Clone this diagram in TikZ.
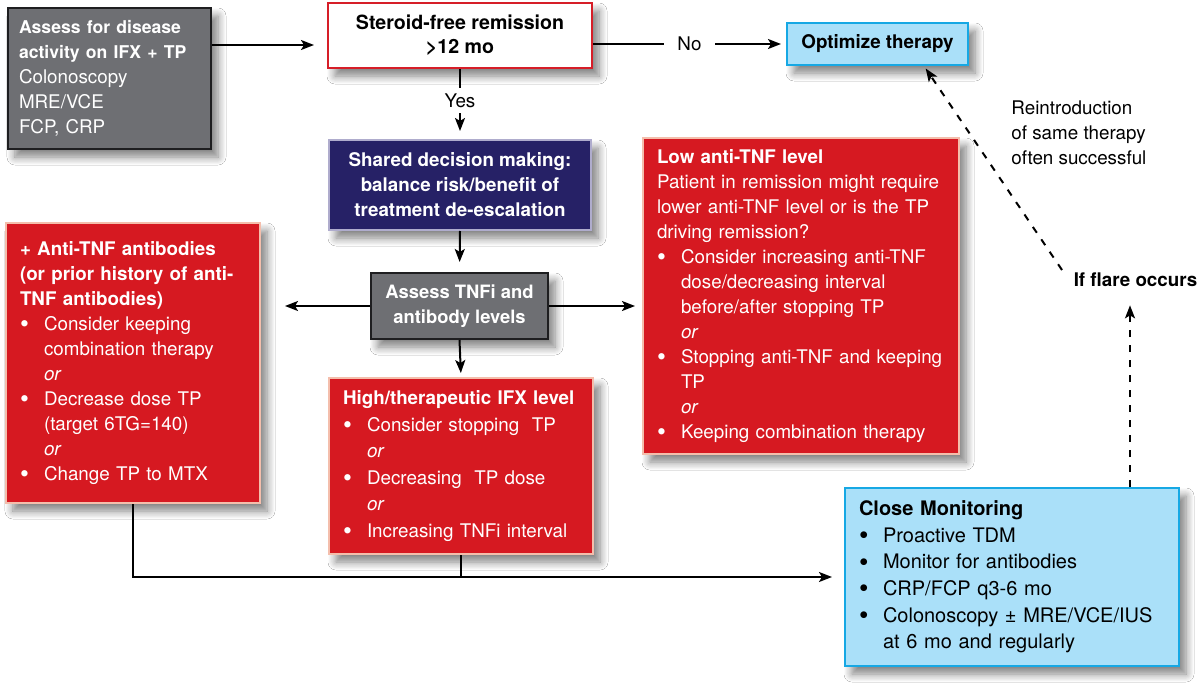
\documentclass[tikz,border=0pt]{standalone}
\usepackage{fontspec}
\setmainfont{TeX Gyre Heros}
\usetikzlibrary{arrows.meta,shadows.blur}

\definecolor{greyfill}{RGB}{110,111,115}
\definecolor{greyedge}{RGB}{30,30,32}
\definecolor{redfill}{RGB}{214,25,33}
\definecolor{rededge}{RGB}{244,190,172}
\definecolor{navyfill}{RGB}{38,33,102}
\definecolor{navyedge}{RGB}{175,172,205}
\definecolor{bluefill}{RGB}{170,224,249}
\definecolor{blueedge}{RGB}{22,168,228}
\definecolor{steroidedge}{RGB}{214,30,40}

\newcommand{\bul}{\makebox[12pt][l]{\raisebox{-1.1pt}{\scalebox{1.35}{\textbullet}}}}
\newcommand{\ind}{\hspace*{12pt}}

\tikzset{
  box/.style={draw, line width=1pt, inner xsep=7pt, inner ysep=2pt,
    font=\fontsize{9.4}{12.5}\selectfont,
    blur shadow={shadow xshift=3.5pt, shadow yshift=-4pt, shadow blur steps=8, shadow blur radius=4pt, shadow opacity=50}},
  listbox/.style={box, anchor=north west, align=left},
  midbox/.style={box, align=center},
  greybox/.style={fill=greyfill, draw=greyedge, text=white},
  redbox/.style={listbox, fill=redfill, draw=rededge, text=white},
  navybox/.style={midbox, fill=navyfill, draw=navyedge, text=white, font=\fontsize{9.4}{12.5}\selectfont\bfseries},
  bluebox/.style={fill=bluefill, draw=blueedge},
  arr/.style={line width=1pt, -{Stealth[length=6.5pt,width=5pt,inset=1.5pt]}},
  dasharr/.style={arr, dash pattern=on 3.5pt off 4pt},
  lbl/.style={font=\fontsize{9.4}{12.5}\selectfont, inner sep=3pt}
}

\begin{document}
\begin{tikzpicture}[x=0.5pt, y=-0.5pt]

\path[use as bounding box, fill=white] (0,0) rectangle (1200,685) ;

\node[listbox, greybox, inner xsep=5.5pt, text width=90.5pt, minimum height=70.5pt] (assess) at (7,7)
  {{\fontsize{8.8}{12.5}\selectfont\bfseries Assess for disease\\ activity on IFX + TP}\\ Colonoscopy\\ MRE/VCE\\ FCP, CRP} ;

\node[midbox, fill=white, draw=steroidedge, minimum width=132pt, minimum height=32.5pt,
  font=\fontsize{9.8}{12}\selectfont\bfseries] (steroid) at (460,35.5)
  {Steroid-free remission\\ >12 mo} ;

\node[midbox, bluebox, minimum width=90.5pt, minimum height=21pt, font=\fontsize{9.4}{12}\selectfont\bfseries]
  (optim) at (877.5,44) {Optimize therapy} ;

\node[navybox, minimum width=131pt, minimum height=45pt] (shared) at (460,185)
  {Shared decision making:\\ balance risk/benefit of\\ treatment de-escalation} ;

\node[midbox, greybox, minimum width=88.5pt, minimum height=33pt, inner xsep=4pt,
  font=\fontsize{9.2}{12.5}\selectfont\bfseries] (tnfi) at (459.5,306)
  {Assess TNFi and\\ antibody levels} ;

\node[redbox, text width=113pt, minimum height=140pt] (anti) at (5,222)
  {\textbf{+ Anti-TNF antibodies}\\
   \textbf{(or prior history of anti-}\\
   \textbf{TNF antibodies)}\\
   \bul Consider keeping\\
   \ind combination therapy\\
   \ind\textit{or}\\
   \bul Decrease dose TP\\
   \ind(target 6TG=140)\\
   \ind\textit{or}\\
   \bul Change TP to MTX} ;

\node[redbox, text width=118pt, minimum height=88pt, font=\fontsize{9.4}{13.3}\selectfont] (high) at (328,377)
  {\textbf{High/therapeutic IFX level}\\
   \bul Consider stopping~ TP\\
   \ind\textit{or}\\
   \bul Decreasing~ TP dose\\
   \ind\textit{or}\\
   \bul Increasing TNFi interval} ;

\node[redbox, text width=144pt, minimum height=158pt] (low) at (642,137)
  {\textbf{Low anti-TNF level}\\
   Patient in remission might require\\
   lower anti-TNF level or is the TP\\
   driving remission?\\
   \bul Consider increasing anti-TNF\\
   \ind dose/decreasing interval\\
   \ind before/after stopping TP\\
   \ind\textit{or}\\
   \bul Stopping anti-TNF and keeping\\
   \ind TP\\
   \ind\textit{or}\\
   \bul Keeping combination therapy} ;

\node[listbox, bluebox, text width=153pt, minimum height=89pt, font=\fontsize{10}{13.3}\selectfont] (close) at (844,487)
  {\textbf{Close Monitoring}\\
   \bul Proactive TDM\\
   \bul Monitor for antibodies\\
   \bul CRP/FCP q3-6 mo\\
   \bul Colonoscopy ± MRE/VCE/IUS\\
   \ind at 6 mo and regularly} ;

\node[lbl, anchor=west, align=left] (reintro) at (1005,133)
  {Reintroduction\\ of same therapy\\ often successful} ;
\node[lbl, font=\fontsize{9.4}{12.5}\selectfont\bfseries] (flare) at (1135.5,280) {If flare occurs} ;
\coordinate (flaretop) at (1062,270) ;

\draw[arr, shorten >=6.5pt] (assess.north east) ++(0,38) coordinate (a1) -- (a1 -| steroid.west) ;
\draw[arr, shorten >=2.5pt] (optim.west -| steroid.east) -- node[lbl, fill=white, inner xsep=6.5pt] {No} (optim.west) ;
\draw[arr, shorten >=4pt] (steroid.south) -- node[lbl, fill=white, pos=0.45] {Yes} (shared.north) ;
\draw[arr, shorten >=5pt] (shared.south) -- (tnfi.north) ;
\draw[arr, shorten >=2pt] (tnfi.south) -- (high.north) ;
\draw[arr, shorten >=12pt] (tnfi.west) -- (anti.east |- tnfi.west) ;
\draw[arr, shorten >=3.5pt] (tnfi.east) -- (low.west |- tnfi.east) ;

\draw[arr, shorten >=6pt] (anti.south) |- (close.west) ;
\draw[line width=1pt] (high.south) -- (high.south |- close.west) ;

\draw[dasharr, shorten >=6pt] (close.north east) ++(-50,0) coordinate (up) -- (up |- flare.south) ;
\draw[dasharr, shorten >=1.5pt] (flaretop) -- ([xshift=-22.5pt]optim.south east) ;

\end{tikzpicture}
\end{document}
